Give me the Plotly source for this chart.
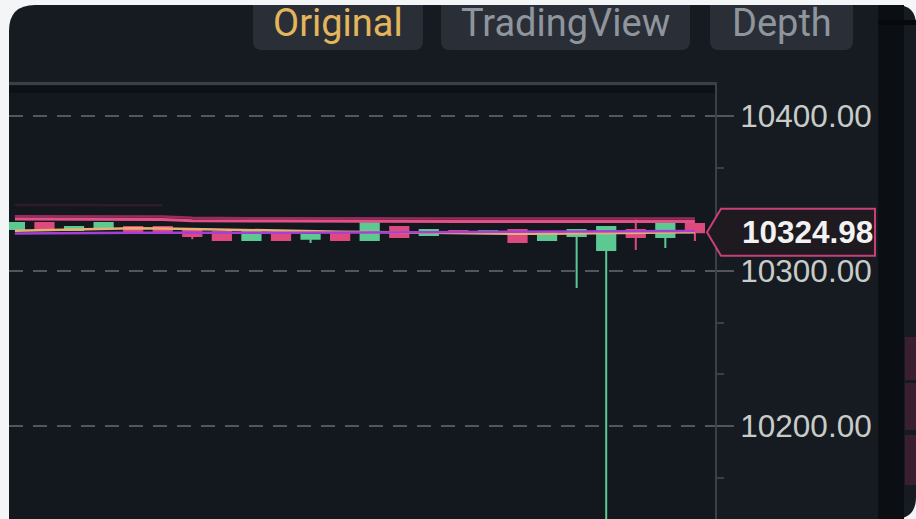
import plotly.graph_objects as go

W, H = 916, 519

# ---------------- data ----------------
times = ["09:00", "09:05", "09:10", "09:15", "09:20", "09:25", "09:30", "09:35",
         "09:40", "09:45", "09:50", "09:55", "10:00", "10:05", "10:10", "10:15",
         "10:20", "10:25", "10:30", "10:35", "10:40", "10:45", "10:50", "10:55"]
opens = [10327.1, 10331.0, 10326.5, 10327.7, 10328.4, 10328.4, 10326.5, 10325.2,
         10320.0, 10325.2, 10320.8, 10324.5, 10320.0, 10328.4, 10323.2, 10325.8,
         10325.0, 10326.5, 10320.0, 10322.6, 10313.5, 10326.5, 10321.9, 10330.3]
highs = [10331.5, 10331.5, 10328.8, 10331.3, 10328.8, 10328.8, 10327.0, 10325.5,
         10327.0, 10325.6, 10323.6, 10325.0, 10331.4, 10328.8, 10326.8, 10326.2,
         10326.0, 10326.8, 10324.8, 10326.8, 10328.8, 10334.2, 10331.4, 10330.6]
lows = [10326.5, 10326.8, 10326.0, 10327.4, 10325.2, 10324.0, 10320.5, 10319.5,
        10319.6, 10319.6, 10318.1, 10319.6, 10319.6, 10321.5, 10322.9, 10324.0,
        10324.6, 10318.3, 10319.7, 10289.0, 10080.0, 10313.5, 10314.8, 10319.4]
closes = [10331.0, 10327.1, 10328.4, 10331.0, 10325.8, 10324.5, 10322.6, 10320.0,
          10326.5, 10320.0, 10323.2, 10320.0, 10331.0, 10321.9, 10326.5, 10324.5,
          10325.6, 10318.7, 10324.5, 10326.5, 10328.4, 10321.9, 10331.0, 10324.98]

ma_pink = [10333.6, 10333.6, 10333.6, 10333.6, 10333.5, 10333.3, 10332.5, 10332.2,
           10332.2, 10332.2, 10332.1, 10332.1, 10332.1, 10332.1, 10332.0, 10332.0,
           10332.0, 10332.0, 10332.0, 10332.0, 10332.0, 10332.0, 10332.0, 10332.0]
ma_dark = [10335.4, 10335.4, 10335.4, 10335.4, 10335.3, 10335.1, 10334.3, 10334.0,
           10334.0, 10334.0, 10333.9, 10333.9, 10333.9, 10333.9, 10333.8, 10333.8,
           10333.8, 10333.8, 10333.8, 10333.8, 10333.8, 10333.8, 10333.8, 10333.8]
ma_faint = [10342.6, 10342.6, 10342.6, 10342.6, 10342.6, 10342.4, None, None,
            None, None, None, None, None, None, None, None,
            None, None, None, None, None, None, None, None]
ma_purple = [10324.2, 10324.2, 10324.3, 10324.4, 10324.6, 10324.7, 10324.8, 10324.8,
             10324.7, 10324.6, 10324.6, 10324.7, 10324.8, 10324.9, 10325.0, 10325.1,
             10325.2, 10325.2, 10325.3, 10325.4, 10325.5, 10325.6, 10325.7, 10325.8]
ma_yellow = [10326.0, 10326.4, 10326.8, 10327.2, 10327.6, 10327.4, 10327.0, 10326.6,
             10326.2, 10325.9, 10325.6, 10325.4, 10325.2, 10325.0, 10324.6, 10324.3,
             10324.0, 10324.0, 10324.1, 10324.2, 10324.4, 10324.6, 10324.8, 10325.0]

y_ticks = [10200, 10300, 10400]
y_range = [10140, 10420]
tabs = ["Original", "TradingView", "Depth"]
last_price = closes[-1]

# ---------------- colours ----------------
UP = "#5cc993"
DOWN = "#df4a7e"
PANEL = "#161b22"
PLOTBG = "#13181e"
GRID = "#51565d"
AXIS = "#3b4047"
LABEL = "#c8ccc9"


def px(x):
    return x / W


def py(y):
    return 1 - y / H


def panel_path(l, t, r, b, rtl, rtr, rbr):
    return (f"M {px(l)},{py(b)} "
            f"L {px(l)},{py(t + rtl)} Q {px(l)},{py(t)} {px(l + rtl)},{py(t)} "
            f"L {px(r - rtr)},{py(t)} Q {px(r)},{py(t)} {px(r)},{py(t + rtr)} "
            f"L {px(r)},{py(b - rbr)} Q {px(r)},{py(b)} {px(r - rbr)},{py(b)} Z")


def tab_path(l, t, r, b, rad):
    return (f"M {px(l)},{py(t)} L {px(r)},{py(t)} "
            f"L {px(r)},{py(b - rad)} Q {px(r)},{py(b)} {px(r - rad)},{py(b)} "
            f"L {px(l + rad)},{py(b)} Q {px(l)},{py(b)} {px(l)},{py(b - rad)} Z")


fig = go.Figure()

line_specs = [
    (ma_faint, "#2e1b2d", 2.5),
    (ma_dark, "#9a2b5a", 2.5),
    (ma_pink, "#e0508a", 3),
    (ma_yellow, "#e6b071", 2.5),
    (ma_purple, "#a63fd6", 2.5),
]
for vals, col, wd in line_specs:
    fig.add_trace(go.Scatter(x=times, y=vals, mode="lines",
                             line=dict(color=col, width=wd),
                             hoverinfo="skip", showlegend=False,
                             connectgaps=False))

fig.add_trace(go.Candlestick(
    x=times, open=opens, high=highs, low=lows, close=closes,
    increasing=dict(line=dict(color=UP, width=2), fillcolor=UP),
    decreasing=dict(line=dict(color=DOWN, width=2), fillcolor=DOWN),
    whiskerwidth=0, showlegend=False))

shapes = []
# dark rounded panel
shapes.append(dict(type="path", xref="paper", yref="paper", layer="below",
                   path=panel_path(9, 5, 916, 519, 26, 20, 22),
                   fillcolor=PANEL, line=dict(width=0)))
# plot area background
shapes.append(dict(type="rect", xref="x domain", yref="y domain", layer="below",
                   x0=0, x1=1, y0=0, y1=1, fillcolor=PLOTBG, line=dict(width=0)))
# dark band just below the top border
shapes.append(dict(type="rect", xref="x domain", yref="paper", layer="below",
                   x0=0, x1=1, y0=py(93), y1=py(86), fillcolor="#0d1116",
                   line=dict(width=0)))
# right dark strip
shapes.append(dict(type="rect", xref="paper", yref="paper", layer="below",
                   x0=px(878), x1=px(904), y0=0, y1=py(5),
                   fillcolor="#0b0e13", line=dict(width=0)))
shapes.append(dict(type="rect", xref="paper", yref="paper", layer="below",
                   x0=px(878), x1=px(916), y0=py(25), y1=py(20),
                   fillcolor="#07090c", line=dict(width=0)))
# order book rows on the far right
for top, bot in [(337, 380), (383, 430), (435, 485)]:
    shapes.append(dict(type="rect", xref="paper", yref="paper", layer="below",
                       x0=px(905), x1=px(916), y0=py(bot), y1=py(top),
                       fillcolor="#3a1f30", line=dict(width=0)))
# tab buttons
tab_boxes = [(253, 423), (441, 690), (710, 853)]
for (l, r) in tab_boxes:
    shapes.append(dict(type="path", xref="paper", yref="paper", layer="below",
                       path=tab_path(l, 5, r, 50, 9),
                       fillcolor="#2a2f37", line=dict(width=0)))
# last price tag (pentagon pointing left)
shapes.append(dict(type="path", xref="paper", yref="y", ysizemode="pixel",
                   yanchor=last_price, layer="above",
                   path=(f"M {px(707)},0 L {px(721)},23.5 L {px(875)},23.5 "
                         f"L {px(875)},-23.5 L {px(721)},-23.5 Z"),
                   fillcolor="#1e1a20", line=dict(color="#c8407a", width=2)))

annotations = []
tab_colors = ["#e4b55a", "#8f959d", "#8f959d"]
for name, (l, r), col in zip(tabs, tab_boxes, tab_colors):
    annotations.append(dict(text=name, xref="paper", yref="paper",
                            x=px((l + r) / 2), y=py(23), xanchor="center",
                            yanchor="middle", showarrow=False,
                            font=dict(family="Roboto", size=38, color=col)))
annotations.append(dict(text=f"<b>{last_price:.2f}</b>", xref="paper", yref="y",
                        x=px(740), y=last_price, xanchor="left", yanchor="middle",
                        showarrow=False,
                        font=dict(family="Liberation Sans", size=31.5,
                                  color="#f2f2f2")))

fig.update_layout(
    width=W, height=H,
    margin=dict(l=0, r=0, t=0, b=0),
    paper_bgcolor="#f4f5f7",
    plot_bgcolor=PLOTBG,
    boxgap=0.12,
    showlegend=False,
    shapes=shapes,
    annotations=annotations,
    xaxis=dict(domain=[px(9), px(715)], range=[-0.2, 23.68], type="category",
               side="top", showline=True, linecolor=AXIS, linewidth=3,
               showticklabels=False, ticks="", showgrid=False, zeroline=False,
               rangeslider=dict(visible=False), fixedrange=True),
    yaxis=dict(domain=[0, py(85)], range=y_range, side="right",
               tickvals=y_ticks, ticktext=[f"{v:.2f}" for v in y_ticks],
               tickfont=dict(family="Liberation Sans", size=31.5, color=LABEL),
               ticks="outside", ticklen=17, tickwidth=2, tickcolor=GRID,
               showgrid=True, gridcolor=GRID, gridwidth=2, griddash="14px,10px",
               showline=True, linecolor=AXIS, linewidth=2, zeroline=False,
               minor=dict(tick0=10200, dtick=100 / 3, ticks="outside", ticklen=7,
                          tickwidth=2, tickcolor=AXIS, showgrid=False),
               fixedrange=True),
)

fig.write_html("out.html",
               config={"displayModeBar": False, "staticPlot": True},
               post_script="document.body.style.margin='0px';"
                           "document.body.style.overflow='hidden';")
